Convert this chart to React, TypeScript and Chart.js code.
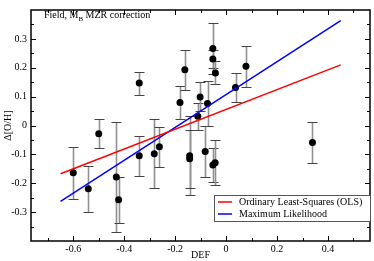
import React, { useEffect, useRef } from "react";
import { Chart, registerables } from "chart.js";
Chart.register(...registerables);

// ---- data ----
const defX = [-0.6, -0.541, -0.5, -0.431, -0.422, -0.341, -0.341, -0.282, -0.262, -0.181, -0.162, -0.143, -0.143, -0.111, -0.102, -0.082, -0.073, -0.052, -0.052, -0.042, -0.052, -0.043, 0.037, 0.078, 0.339];
const dOH = [-0.164, -0.219, -0.029, -0.178, -0.257, -0.105, 0.147, -0.098, -0.074, 0.08, 0.193, -0.105, -0.115, 0.032, 0.099, -0.09, 0.076, 0.267, 0.23, 0.182, -0.137, -0.129, 0.132, 0.205, -0.059];
const errOH = [0.09, 0.08, 0.05, 0.19, 0.08, 0.07, 0.04, 0.12, 0.07, 0.057, 0.07, 0.137, 0.1, 0.047, 0.05, 0.088, 0.077, 0.089, 0.03, 0.04, 0.06, 0.078, 0.05, 0.07, 0.07];
const fitX = [-0.65, 0.45];
const olsY = [-0.167, 0.21];
const mlY = [-0.263, 0.363];
const xMajor = [-0.6, -0.4, -0.2, 0, 0.2, 0.4];
const xMinor = [-0.7, -0.5, -0.3, -0.1, 0.1, 0.3, 0.5];
const yMajor = [-0.3, -0.2, -0.1, 0, 0.1, 0.2, 0.3];
const yMinor = [-0.35, -0.25, -0.15, -0.05, 0.05, 0.15, 0.25, 0.35];
const legendLabels = ["Ordinary Least-Squares (OLS)", "Maximum Likelihood"];
const legendColors = ["#ff0000", "#0000ff"];

const SERIF = "'Liberation Serif', 'Times New Roman', serif";

const fmt = (v: number) => (Math.abs(v) < 1e-9 ? "0" : v.toFixed(1));

const errorBars = {
  id: "errorBars",
  beforeDatasetsDraw(chart: any) {
    const { ctx, scales } = chart;
    const xs = scales.x, ys = scales.y;
    ctx.save();
    const a = chart.chartArea;
    ctx.beginPath();
    ctx.rect(a.left, a.top, a.right - a.left, a.bottom - a.top);
    ctx.clip();
    for (let i = 0; i < defX.length; i++) {
      const px = Math.round(xs.getPixelForValue(defX[i])) + 0.5;
      const y1 = Math.round(ys.getPixelForValue(dOH[i] + errOH[i])) + 0.5;
      const y2 = Math.round(ys.getPixelForValue(dOH[i] - errOH[i])) + 0.5;
      ctx.strokeStyle = "#909090";
      ctx.lineWidth = 1.6;
      ctx.beginPath();
      ctx.moveTo(px, y1);
      ctx.lineTo(px, y2);
      ctx.stroke();
      ctx.strokeStyle = "#444";
      ctx.lineWidth = 1;
      ctx.beginPath();
      ctx.moveTo(px - 5, y1);
      ctx.lineTo(px + 5, y1);
      ctx.moveTo(px - 5, y2);
      ctx.lineTo(px + 5, y2);
      ctx.stroke();
    }
    ctx.restore();
  },
};

const frame = {
  id: "frame",
  afterDraw(chart: any) {
    const { ctx, scales, chartArea: a } = chart;
    const xs = scales.x, ys = scales.y;
    ctx.save();
    ctx.strokeStyle = "#000";
    ctx.lineWidth = 1;
    ctx.beginPath();
    const tick = (vals: number[], len: number) => {
      vals.forEach((v) => {
        const px = Math.round(xs.getPixelForValue(v)) + 0.5;
        ctx.moveTo(px, a.bottom);
        ctx.lineTo(px, a.bottom - len);
        ctx.moveTo(px, a.top);
        ctx.lineTo(px, a.top + len);
      });
    };
    const ytick = (vals: number[], len: number) => {
      vals.forEach((v) => {
        const py = Math.round(ys.getPixelForValue(v)) + 0.5;
        ctx.moveTo(a.left, py);
        ctx.lineTo(a.left + len, py);
        ctx.moveTo(a.right, py);
        ctx.lineTo(a.right - len, py);
      });
    };
    tick(xMajor, 5);
    tick(xMinor, 3);
    ytick(yMajor, 5);
    ytick(yMinor, 3);
    ctx.stroke();
    ctx.lineWidth = 1.5;
    ctx.strokeRect(a.left, a.top, a.right - a.left, a.bottom - a.top);

    // annotation
    ctx.fillStyle = "#000";
    ctx.textBaseline = "alphabetic";
    ctx.textAlign = "left";
    ctx.font = `10px ${SERIF}`;
    let tx = 44;
    const ty = 18;
    ctx.fillText("Field, M", tx, ty);
    tx += ctx.measureText("Field, M").width;
    ctx.font = `7px ${SERIF}`;
    ctx.fillText("B", tx, ty + 3);
    tx += ctx.measureText("B").width;
    ctx.font = `10px ${SERIF}`;
    ctx.fillText(" MZR correction", tx, ty);

    // legend
    const bx = 214.5, by = 195.5, bw = 156, bh = 26;
    ctx.fillStyle = "#fff";
    ctx.fillRect(bx, by, bw, bh);
    ctx.strokeStyle = "#555";
    ctx.lineWidth = 1;
    ctx.strokeRect(bx, by, bw, bh);
    ctx.font = `10px ${SERIF}`;
    ctx.textBaseline = "middle";
    legendLabels.forEach((lab, i) => {
      const ly = 202 + i * 12;
      ctx.strokeStyle = legendColors[i];
      ctx.lineWidth = 1.5;
      ctx.beginPath();
      ctx.moveTo(218, ly);
      ctx.lineTo(232, ly);
      ctx.stroke();
      ctx.fillStyle = "#000";
      ctx.fillText(lab, 239, ly + 0.5);
    });
    ctx.restore();
  },
};

export default function App() {
  const ref = useRef<HTMLCanvasElement | null>(null);
  useEffect(() => {
    document.body.style.margin = "0";
    if (!ref.current) return;
    Chart.defaults.font.family = SERIF;
    Chart.defaults.color = "#000";
    const chart = new Chart(ref.current, {
      type: "scatter",
      data: {
        datasets: [
          {
            label: "ols",
            data: fitX.map((x, i) => ({ x, y: olsY[i] })),
            showLine: true,
            borderColor: "#ff0000",
            borderWidth: 1.5,
            pointRadius: 0,
          },
          {
            label: "ml",
            data: fitX.map((x, i) => ({ x, y: mlY[i] })),
            showLine: true,
            borderColor: "#0000ff",
            borderWidth: 1.5,
            pointRadius: 0,
          },
          {
            label: "data",
            data: defX.map((x, i) => ({ x, y: dOH[i] })),
            pointRadius: 3.5,
            pointBackgroundColor: "#000",
            pointBorderColor: "#000",
            pointBorderWidth: 0,
          },
        ],
      },
      options: {
        responsive: false,
        animation: false,
        layout: { padding: { top: 1, right: 1.3, left: 0, bottom: 0 } },
        plugins: { legend: { display: false }, tooltip: { enabled: false } },
        scales: {
          x: {
            type: "linear",
            min: -0.766,
            max: 0.565,
            grid: { display: false, drawTicks: false },
            border: { display: false },
            afterBuildTicks: (s: any) => {
              s.ticks = xMajor.map((v) => ({ value: v }));
            },
            afterFit: (s: any) => {
              s.height = 20;
            },
            ticks: { padding: 2, font: { size: 10 }, color: "#000", callback: (v: any) => fmt(Number(v)), maxRotation: 0, autoSkip: false },
            title: { display: true, text: "DEF", font: { size: 10 }, color: "#000", padding: { top: 0, bottom: 0 } },
          },
          y: {
            type: "linear",
            min: -0.4,
            max: 0.4,
            grid: { display: false, drawTicks: false },
            border: { display: false },
            afterBuildTicks: (s: any) => {
              s.ticks = yMajor.map((v) => ({ value: v }));
            },
            afterFit: (s: any) => {
              s.width = 31;
            },
            ticks: { padding: 4, font: { size: 10 }, color: "#000", callback: (v: any) => fmt(Number(v)), autoSkip: false },
            title: { display: true, text: "Δ[O/H]", font: { size: 10 }, color: "#000", padding: { top: 2, bottom: 0 } },
          },
        },
      },
      plugins: [errorBars, frame],
    });
    return () => chart.destroy();
  }, []);
  return <canvas ref={ref} width={374} height={261} style={{ display: "block", width: 374, height: 261 }} />;
}
